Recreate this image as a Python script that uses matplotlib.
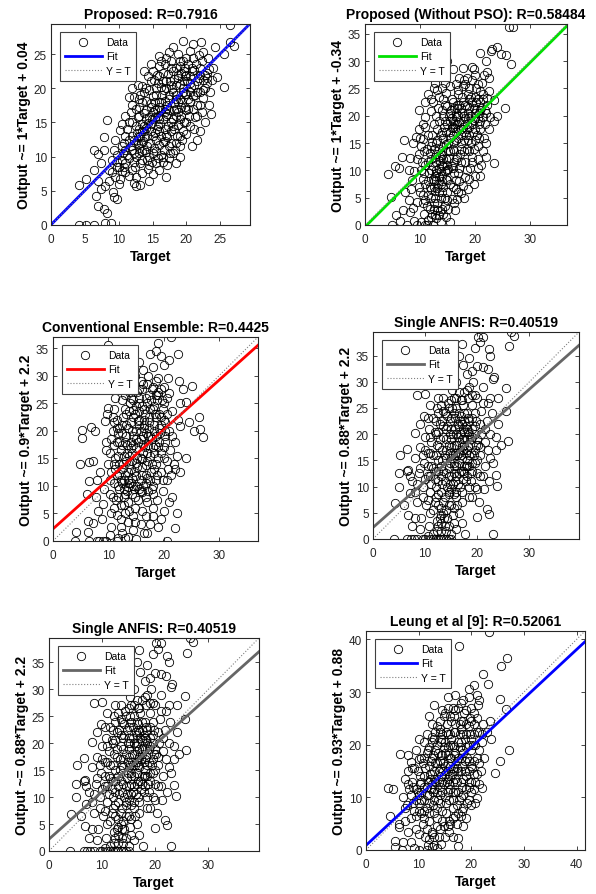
import numpy as np
import matplotlib
matplotlib.use('Agg')
import matplotlib.pyplot as plt
from matplotlib.lines import Line2D

plt.rcParams['font.family'] = ['Liberation Sans', 'DejaVu Sans']

# ---- data: (Target, Output) ----
proposed = [(4.2,0.0),(5.2,0.0),(6.3,0.0),(8.0,0.3),(8.8,0.3),(4.1,5.9),(5.2,6.7),(6.4,8.0),(6.4,10.9),(7.0,10.4),(7.8,11.0),(7.8,12.9),(8.2,15.3),(6.7,4.2),(7.0,2.8),(7.8,2.3),(8.3,1.8),(7.4,5.3),(9.1,4.8),(9.7,3.8),(9.3,4.1),(8.5,6.5),(8.0,5.7),(7.0,6.5),(7.4,9.0),(8.6,8.0),(9.0,7.7),(9.7,8.5),(9.8,10.2),(9.5,12.4),(9.3,11.0),(10.2,6.8),(10.5,7.9),(10.6,10.6),(10.2,13.9),(10.8,12.0),(11.0,16.0),(11.2,14.0),(11.8,16.5),(11.0,9.0),(11.5,7.2),(11.8,11.5),(12.0,13.0),(11.5,18.7),(12.3,18.7),(12.2,6.2),(12.6,5.7),(12.4,8.5),(12.6,10.0),(12.8,11.8),(12.5,14.5),(12.9,15.8),(13.0,17.3),(13.2,19.0),(13.5,20.4),(13.2,9.0),(13.5,7.6),(13.6,12.3),(13.8,13.7),(13.7,16.4),(14.0,18.2),(14.1,10.7),(14.3,8.2),(14.4,14.9),(14.6,12.0),(14.7,17.2),(14.5,19.8),(14.8,21.0),(14.9,9.2),(15.0,7.5),(15.2,11.2),(15.3,13.5),(15.4,15.8),(15.3,18.0),(15.5,20.0),(15.6,22.0),(15.9,23.2),(15.9,24.7),(15.8,9.8),(16.0,11.7),(16.2,13.0),(16.1,14.8),(16.3,16.8),(16.4,19.0),(16.5,21.0),(16.3,10.2),(16.8,12.3),(16.9,14.0),(17.0,15.9),(17.1,17.5),(17.0,20.0),(17.3,22.1),(17.5,25.3),(17.2,8.8),(17.6,10.5),(17.8,12.0),(17.7,13.8),(18.0,15.5),(18.1,17.8),(18.0,19.5),(18.2,21.3),(18.4,23.0),(18.3,11.0),(18.6,13.0),(18.8,14.6),(18.7,16.6),(19.0,18.5),(19.0,20.6),(19.2,22.2),(19.5,24.0),(19.5,26.9),(19.3,12.5),(19.6,15.0),(19.8,17.2),(20.0,19.2),(20.1,21.0),(20.2,23.5),(20.0,13.3),(20.4,16.0),(20.6,18.0),(20.7,20.2),(20.9,22.5),(21.0,24.5),(21.0,26.5),(21.2,14.0),(21.3,15.8),(21.5,17.6),(21.6,19.5),(21.8,21.5),(22.0,23.0),(22.2,26.7),(22.4,25.3),(22.3,16.5),(22.5,18.6),(22.7,20.0),(22.8,22.0),(23.0,22.3),(23.4,22.8),(23.2,24.5),(23.5,19.5),(23.8,21.2),(24.0,23.0),(23.3,17.6),(24.5,21.7),(25.5,20.2),(25.6,25.0),(26.5,26.8),(27.0,26.2),(26.4,29.3),(24.2,26.0),(21.5,12.5),(20.8,11.5),(19.0,10.0),(18.5,9.0),(17.0,7.0),(16.0,8.0),(14.5,6.5),(13.2,5.8),(12.0,15.0),(12.5,17.0),(13.8,11.0),(14.2,13.0),(15.5,12.5),(16.5,15.5),(17.5,16.8),(18.5,18.5),(19.5,19.5),(15.0,16.5),(14.0,15.5),(13.0,14.0),(12.8,12.8),(16.8,18.2),(17.9,19.9),(19.8,21.8),(21.2,22.7),(10.0,6.0),(9.0,9.5),(13.8,22.5),(14.3,21.8),(12.0,20.0),(22.0,13.8),(22.8,15.0),(23.6,16.2),(20.5,25.5),(18.8,25.0),(17.8,24.0),(16.8,23.5)]
proposed_core = [(10.5,9.5),(11.0,11.0),(11.5,12.5),(11.2,10.2),(12.0,11.0),(12.3,9.2),(12.7,13.5),(13.0,10.5),(13.3,12.0),(13.5,14.8),(13.0,16.0),(14.0,16.8),(13.8,19.5),(14.5,10.0),(14.8,13.8),(14.9,15.5),(15.0,18.8),(15.2,21.2),(15.5,9.0),(15.6,14.0),(15.7,17.0),(16.0,18.0),(16.2,20.2),(16.5,22.3),(16.7,11.0),(16.0,13.8),(17.2,12.8),(17.3,14.5),(17.5,19.0),(17.6,21.0),(17.8,23.0),(18.0,10.5),(18.2,14.0),(18.4,16.0),(18.5,20.5),(18.8,22.0),(19.0,13.0),(19.2,16.0),(19.4,18.0),(19.6,21.0),(19.8,23.0),(20.0,15.0),(20.3,17.0),(20.5,19.5),(20.6,21.8),(21.0,18.8),(21.2,20.5),(21.4,23.5),(22.0,17.5),(22.0,19.5),(22.5,21.2),(21.8,24.8),(23.0,20.8),(19.0,11.5),(17.5,9.8),(16.5,9.2),(15.0,10.5),(14.2,9.5),(13.5,10.8),(12.0,8.0),(11.0,7.8),(10.0,8.5),(9.5,7.0),(11.5,15.0),(10.5,14.8),(12.8,20.5),(13.5,18.0),(14.8,23.5),(15.8,20.8),(16.2,24.0),(17.0,24.5),(18.0,26.0),(19.0,24.0),(20.0,22.0),(18.5,17.0),(17.8,15.0),(16.8,16.5),(15.8,16.0),(14.0,14.2),(13.2,13.0),(12.2,12.5)]
proposed_dense = [(11.5,9.8),(12.2,10.5),(12.5,12.0),(13.0,11.2),(13.4,13.8),(13.8,12.8),(14.2,11.5),(14.5,15.8),(14.8,14.8),(15.0,13.0),(15.3,16.8),(15.5,19.0),(15.8,14.5),(16.0,15.5),(16.3,18.0),(16.5,12.2),(16.7,19.8),(17.0,13.2),(17.2,16.2),(17.4,18.5),(17.7,20.5),(18.0,14.5),(18.2,16.8),(18.4,19.0),(18.7,21.5),(19.0,15.5),(19.2,17.2),(19.5,20.0),(19.7,22.5),(20.0,16.8),(20.2,18.5),(20.5,20.8),(20.8,23.0),(21.0,17.0),(21.3,19.0),(21.5,21.0),(22.0,22.0),(22.3,24.0),(12.0,17.5),(13.0,18.5),(14.0,20.0),(15.0,22.5),(16.0,21.8),(17.0,21.0),(18.0,22.5),(19.0,23.2),(20.0,24.5),(13.5,9.5),(14.5,8.8),(15.5,10.8),(16.5,10.0),(17.5,11.5),(18.5,12.0),(19.5,13.8),(20.5,14.5),(21.5,16.0),(11.0,13.0),(10.5,11.5),(9.8,9.2),(10.8,8.5),(12.5,7.0),(16.0,17.2),(17.0,17.0),(14.8,17.8),(13.8,14.5),(18.8,18.0),(19.8,19.2),(22.5,19.8),(23.0,21.5)]

no_pso = [(4.2,9.4),(4.7,5.1),(5.0,0.0),(5.4,10.8),(6.2,10.5),(6.7,12.5),(7.1,15.6),(7.0,2.8),(7.6,0.0),(6.3,0.8),(5.6,1.8),(8.2,2.4),(8.8,3.1),(9.5,0.0),(10.9,0.0),(11.3,0.0),(12.4,0.0),(10.2,0.5),(9.4,4.2),(8.5,8.2),(8.2,12.2),(8.0,10.0),(8.8,15.0),(9.2,16.2),(9.8,17.5),(9.8,21.0),(11.4,24.0),(11.0,22.5),(12.8,26.0),(12.5,25.0),(14.5,26.0),(15.0,30.0),(16.0,28.5),(17.8,28.8),(19.5,29.0),(19.8,28.5),(21.0,31.5),(22.0,30.0),(23.0,31.9),(23.1,32.3),(24.0,32.5),(24.8,31.3),(25.6,31.2),(26.3,36.3),(27.0,36.3),(26.6,29.5),(22.2,28.0),(21.6,27.5),(22.5,27.0),(25.5,21.4),(23.5,22.8),(24.0,20.0),(23.5,19.0),(23.5,11.3),(22.0,12.5),(21.0,9.0),(20.5,12.0),(10.0,6.0),(10.5,8.5),(10.4,11.5),(10.8,13.5),(10.6,15.8),(11.0,18.0),(11.0,19.8),(11.3,3.5),(11.5,5.5),(11.8,7.0),(11.6,9.5),(12.0,12.0),(12.0,14.5),(12.2,16.5),(12.0,20.8),(12.4,22.5),(12.2,2.0),(12.6,4.0),(12.8,6.2),(12.6,8.0),(12.9,10.0),(13.0,11.5),(13.0,13.0),(13.2,15.5),(13.2,17.5),(13.4,19.0),(13.3,21.5),(13.5,23.5),(13.0,1.2),(13.6,2.5),(13.8,5.0),(13.8,7.5),(14.0,9.0),(14.0,11.0),(14.1,12.8),(14.2,14.2),(14.2,16.0),(14.4,18.0),(14.3,20.0),(14.6,22.0),(14.7,24.2),(14.5,3.5),(15.0,6.0),(15.0,8.2),(15.2,10.2),(15.3,12.2),(15.2,15.0),(15.5,17.0),(15.4,19.0),(15.6,21.0),(15.8,23.0),(15.5,25.5),(15.8,4.8),(16.0,7.0),(16.2,9.5),(16.3,11.5),(16.2,13.5),(16.5,15.5),(16.4,17.8),(16.6,19.8),(16.8,22.0),(16.9,24.0),(16.4,2.8),(17.0,6.0),(17.2,8.0),(17.1,10.5),(17.3,13.0),(17.4,15.0),(17.5,17.5),(17.6,20.5),(17.8,22.5),(17.9,25.5),(18.0,5.0),(18.2,8.8),(18.3,11.5),(18.5,14.0),(18.4,16.5),(18.6,18.5),(18.8,20.5),(18.9,23.0),(19.0,25.0),(19.2,10.5),(19.5,12.5),(19.4,15.0),(19.6,17.0),(19.8,19.2),(19.9,21.5),(20.0,23.5),(20.2,25.0),(20.5,14.5),(20.4,16.5),(20.7,18.5),(20.8,20.5),(21.0,22.5),(21.0,24.5),(21.2,11.0),(21.5,13.5),(21.6,16.0),(21.8,18.5),(22.0,20.5),(22.2,22.0),(22.5,24.5),(22.8,19.8),(22.0,15.0),(22.5,17.5),(21.3,26.0),(20.0,27.5),(18.5,27.0),(18.0,26.5),(17.2,27.0),(16.5,25.8),(14.0,25.0),(13.2,24.8),(12.0,23.0),(10.2,14.5),(9.5,12.0),(9.0,9.8),(9.8,7.0),(10.8,2.0),(11.5,1.0),(14.8,1.5),(15.5,0.5),(13.8,0.5),(12.8,1.8),(16.2,4.0),(17.5,5.8),(18.8,6.5),(19.0,8.5),(20.1,9.0),(20.5,10.5),(19.8,7.5),(8.0,4.5),(7.3,6.0),(8.3,6.5),(9.0,0.8),(10.5,4.0)]
no_pso_core = [(12.5,7.0),(12.8,9.0),(13.0,8.2),(13.2,6.8),(13.5,8.8),(13.4,10.5),(13.7,11.8),(13.6,12.5),(14.2,7.0),(14.5,9.8),(14.3,10.8),(14.8,12.0),(14.0,6.0),(13.2,4.0),(12.0,5.0),(12.3,10.8),(11.8,13.2),(12.5,14.0),(13.0,15.0),(13.8,16.5),(14.8,17.0),(15.0,18.5),(15.3,20.0),(15.8,17.8),(16.0,16.5),(16.2,18.5),(16.5,20.5),(16.8,21.5),(17.0,16.0),(17.2,18.8),(17.5,21.5),(17.7,23.5),(18.0,17.0),(18.2,19.5),(18.5,21.8),(18.7,24.0),(19.0,18.0),(19.3,20.0),(19.5,22.5),(20.0,19.5),(20.3,21.0),(20.5,23.0),(21.0,19.0),(21.2,21.5),(16.0,14.0),(16.8,12.5),(17.5,11.5),(18.0,13.5),(18.8,15.5),(19.8,14.0),(20.8,16.0),(15.5,13.5),(14.7,14.8),(14.0,13.5),(15.8,10.8),(16.5,8.2),(17.8,7.2),(16.8,4.8),(15.2,3.0),(14.2,2.0),(12.0,1.5),(11.8,3.0),(13.5,1.8),(15.0,21.8),(14.2,23.0),(14.0,21.0),(13.0,20.0),(12.6,18.5),(12.2,15.2),(11.5,16.5),(11.3,14.0),(11.0,11.0),(10.8,9.5),(11.5,8.0),(10.2,10.0),(9.8,13.0),(10.0,16.0),(10.5,18.5),(16.0,22.5),(17.0,24.8),(18.2,25.8),(19.5,26.5),(20.5,25.8),(21.5,24.0),(21.8,21.0),(22.3,23.2),(17.8,19.0),(16.2,15.2),(15.0,11.0),(19.0,13.5)]
no_pso_dense = [(12.0,6.5),(12.3,8.5),(12.8,5.0),(13.0,9.5),(13.3,7.5),(13.5,6.0),(13.8,9.8),(14.0,8.0),(14.3,12.0),(14.5,5.0),(14.8,8.5),(15.0,10.0),(15.2,13.5),(15.5,16.0),(15.8,19.5),(16.0,18.0),(16.2,21.5),(16.5,17.0),(16.8,18.5),(17.0,20.0),(17.2,22.0),(17.5,16.5),(17.8,18.0),(18.0,20.0),(18.3,22.0),(18.5,17.5),(18.8,19.5),(19.0,21.5),(19.3,23.5),(19.5,18.5),(20.0,20.5),(20.3,22.5),(20.5,19.5),(21.0,21.0),(21.5,23.0),(15.5,20.5),(16.0,19.0),(17.0,17.5),(14.5,19.0),(14.0,17.0),(13.5,14.0),(12.8,12.5),(12.0,10.0),(11.5,11.5),(11.0,7.5),(10.5,5.5),(15.5,7.5),(16.0,10.5),(16.5,12.0),(17.5,14.0),(18.0,15.5),(19.0,16.5),(20.0,17.5),(21.0,17.5),(19.5,11.5),(18.5,10.0),(17.0,9.5),(16.5,6.5),(15.0,4.5),(14.0,3.0),(13.2,2.8),(12.5,3.0),(11.0,4.5),(20.0,15.5),(21.5,19.8)]

conv_ens = [(4.0,0.0),(4.2,1.7),(5.2,20.2),(5.3,18.7),(4.8,14.0),(6.8,20.7),(6.5,14.3),(7.3,14.6),(7.6,20.0),(6.5,10.8),(6.2,8.5),(6.3,3.7),(6.5,0.0),(6.4,1.7),(7.2,3.3),(8.0,0.0),(8.3,0.0),(9.0,0.0),(9.6,0.0),(10.0,35.6),(10.0,24.2),(11.0,24.0),(19.0,36.0),(21.3,37.0),(21.0,32.8),(22.5,34.0),(18.6,34.5),(20.0,32.0),(23.5,27.5),(25.0,28.2),(23.0,25.0),(24.0,25.2),(26.3,22.5),(26.5,20.3),(25.5,20.0),(27.0,18.8),(23.0,20.8),(24.0,15.0),(22.0,13.0),(21.5,8.0),(22.0,2.3),(20.5,0.0),(18.0,4.5),(19.0,2.5),(17.0,1.5),(15.0,0.3),(13.5,0.8),(11.5,0.0),(11.8,0.5),(7.8,8.0),(8.0,11.0),(8.5,12.5),(8.2,5.5),(8.8,4.0),(9.0,6.8),(9.2,9.5),(9.5,16.5),(9.6,18.0),(9.4,21.8),(10.0,14.0),(10.2,11.0),(10.3,8.5),(10.5,5.0),(10.5,2.5),(10.8,20.0),(10.8,22.5),(11.0,17.5),(11.2,13.0),(11.0,10.5),(11.3,7.5),(11.5,4.8),(11.6,22.0),(11.8,19.5),(11.8,15.5),(12.0,12.2),(12.0,9.5),(12.2,6.5),(12.2,2.5),(12.5,25.5),(12.5,21.0),(12.5,17.5),(12.7,14.0),(12.8,11.0),(12.9,8.0),(13.0,5.0),(13.2,23.0),(13.2,19.0),(13.3,16.0),(13.5,12.5),(13.5,9.8),(13.6,7.0),(13.8,27.0),(13.9,25.0),(14.0,21.5),(14.0,18.0),(14.2,14.5),(14.3,11.5),(14.3,8.5),(14.5,4.5),(14.5,2.0),(14.8,30.0),(14.8,23.0),(15.0,20.0),(15.0,16.8),(15.1,13.5),(15.2,10.0),(15.4,7.5),(15.5,27.5),(15.5,25.0),(15.6,22.0),(15.8,18.5),(15.8,15.0),(16.0,12.0),(16.0,8.8),(16.0,5.5),(16.3,31.0),(16.3,28.5),(16.5,24.0),(16.5,20.5),(16.6,17.0),(16.8,13.8),(16.8,10.5),(17.0,7.0),(17.2,30.0),(17.3,26.5),(17.4,22.5),(17.5,19.0),(17.5,15.5),(17.6,12.5),(17.8,9.5),(18.0,31.5),(18.0,28.0),(18.2,24.5),(18.2,21.0),(18.4,17.5),(18.5,14.0),(18.6,11.0),(18.8,7.5),(19.0,29.5),(19.0,26.5),(19.2,23.0),(19.3,19.5),(19.5,16.0),(19.5,12.5),(19.8,9.0),(20.0,28.0),(20.0,25.0),(20.2,21.5),(20.3,18.0),(20.5,14.5),(20.5,11.0),(20.8,29.5),(21.0,26.8),(21.0,20.0),(21.2,16.5),(21.3,12.0),(21.5,23.5),(22.0,18.0),(22.3,15.5),(22.5,22.0),(23.0,12.5),(20.0,5.5),(21.0,7.0),(22.3,5.0),(19.5,4.0),(17.5,3.0),(16.5,1.5),(12.5,1.5),(13.0,0.5),(10.2,1.0),(24.5,21.5),(22.8,29.0),(12.2,28.0),(11.2,26.0),(10.5,28.5),(13.5,33.0),(15.5,32.5),(17.5,34.0),(19.5,33.5),(9.8,23.0),(12.8,30.5)]
conv_ens_core = [(12.0,14.0),(12.3,16.5),(12.5,19.5),(12.7,22.5),(12.8,9.5),(13.0,12.0),(13.2,14.5),(13.4,17.5),(13.5,20.5),(13.7,23.5),(13.0,8.5),(13.8,10.5),(14.0,13.0),(14.2,16.0),(14.4,19.0),(14.5,22.5),(14.5,25.5),(14.7,9.5),(15.0,11.8),(15.2,15.0),(15.3,18.0),(15.5,21.0),(15.6,23.5),(15.8,9.0),(16.0,13.5),(16.2,16.0),(16.3,19.0),(16.5,22.0),(16.7,26.0),(16.8,8.0),(17.0,11.5),(17.0,14.5),(17.2,17.5),(17.3,20.5),(17.5,24.0),(17.8,27.5),(18.0,10.0),(18.2,13.0),(18.3,16.0),(18.5,19.0),(18.6,22.5),(18.8,25.5),(19.0,15.0),(19.2,18.0),(19.5,21.0),(19.8,24.0),(20.0,17.0),(20.3,20.0),(12.0,18.0),(11.5,20.5),(11.0,21.5),(10.5,18.5),(10.2,16.0),(11.2,15.0),(11.5,12.0),(10.8,8.0),(11.8,10.0),(12.2,4.0),(13.5,3.5),(14.8,6.0),(15.8,3.0),(13.0,26.5),(14.2,28.0),(15.8,29.0),(17.0,28.5),(18.5,29.0),(19.5,27.5),(20.5,26.0),(21.5,19.0),(21.8,14.0),(20.8,13.0),(19.8,11.0),(18.0,6.0),(16.8,4.5),(17.5,11.0),(14.5,10.0),(13.8,15.5),(15.0,24.5),(16.0,27.5)]
conv_ens_dense = [(12.2,11.0),(12.5,13.0),(12.8,15.5),(13.0,18.0),(13.2,21.0),(13.5,11.0),(13.7,14.0),(14.0,16.8),(14.2,20.0),(14.5,23.8),(14.7,12.5),(15.0,14.2),(15.0,18.5),(15.3,21.8),(15.5,26.0),(15.8,11.0),(16.0,14.8),(16.2,17.5),(16.4,21.0),(16.6,23.0),(16.8,12.0),(17.0,16.0),(17.2,19.0),(17.4,21.5),(17.6,25.5),(17.8,14.0),(18.0,17.0),(18.2,20.0),(18.4,23.0),(18.6,26.5),(18.8,12.0),(19.0,17.0),(19.2,20.5),(19.5,22.5),(19.7,25.5),(20.0,15.0),(20.2,19.0),(20.5,23.0),(12.0,20.5),(11.5,18.0),(11.0,14.0),(11.8,8.0),(12.5,10.5),(13.3,9.0),(14.0,10.5),(14.8,8.0),(15.5,9.5),(16.2,10.0),(17.2,9.0),(18.0,8.5),(13.0,24.0),(14.0,26.0),(15.2,27.0),(16.0,24.5),(17.0,25.0),(18.0,24.0),(19.0,27.0),(20.0,22.0),(13.8,5.5),(12.8,6.5),(14.8,3.5),(11.0,6.0),(10.5,12.5),(15.8,20.0),(16.8,19.5),(17.8,18.5),(14.5,17.5)]

single_anfis = [(4.0,0.0),(4.2,6.8),(5.2,16.0),(5.0,12.5),(5.0,10.0),(6.5,13.0),(6.8,13.2),(6.5,17.2),(7.0,8.8),(6.8,4.6),(7.5,2.5),(6.5,0.0),(7.2,0.0),(7.8,0.0),(8.5,0.0),(9.5,0.0),(10.0,0.0),(11.0,0.0),(12.0,0.0),(12.5,0.0),(13.0,0.0),(13.5,0.0),(14.5,0.0),(15.0,0.0),(8.5,27.5),(10.0,27.6),(10.5,23.0),(9.0,22.0),(8.0,20.2),(17.0,37.2),(17.2,33.2),(19.5,36.5),(20.5,37.5),(21.0,38.5),(20.2,38.6),(26.5,39.5),(27.0,38.8),(26.0,36.8),(22.2,36.2),(22.0,32.5),(21.0,32.8),(20.0,33.0),(23.0,30.5),(23.2,31.0),(25.5,28.8),(24.0,27.0),(22.5,27.0),(25.5,24.5),(24.5,18.0),(25.8,18.7),(23.5,17.0),(23.5,12.2),(23.8,10.2),(23.0,1.0),(22.2,4.8),(21.8,5.8),(20.0,4.2),(7.5,11.0),(8.0,15.5),(8.5,7.0),(8.8,12.5),(9.0,17.5),(9.2,4.0),(9.5,10.0),(9.8,14.5),(10.0,19.5),(10.2,6.5),(10.5,12.0),(10.5,16.5),(10.8,21.0),(10.8,2.5),(11.0,9.0),(11.2,14.0),(11.2,18.5),(11.5,23.0),(11.5,5.5),(11.8,11.5),(12.0,16.0),(12.0,20.0),(12.2,25.0),(12.3,3.5),(12.5,8.5),(12.5,13.0),(12.7,17.5),(12.8,22.0),(13.0,1.5),(13.0,6.0),(13.2,10.5),(13.3,15.0),(13.5,19.5),(13.5,24.5),(13.7,4.0),(13.8,8.0),(14.0,12.5),(14.0,17.0),(14.2,21.5),(14.3,26.0),(14.5,2.5),(14.5,6.5),(14.7,10.5),(14.8,14.5),(15.0,19.0),(15.0,23.0),(15.2,28.5),(15.3,4.5),(15.5,8.5),(15.5,12.5),(15.7,16.5),(15.8,21.0),(16.0,25.0),(16.0,30.0),(16.2,6.5),(16.3,10.5),(16.5,14.5),(16.5,18.5),(16.7,22.5),(16.8,26.5),(17.0,3.0),(17.0,9.0),(17.2,13.0),(17.3,17.0),(17.5,20.5),(17.5,24.0),(17.7,1.0),(17.8,11.0),(18.0,15.0),(18.0,19.0),(18.2,23.0),(18.3,27.0),(18.5,8.0),(18.7,12.5),(18.8,16.5),(19.0,21.0),(19.0,25.5),(19.2,30.0),(19.5,10.0),(19.5,14.5),(19.7,18.0),(19.8,22.5),(20.0,27.0),(20.3,7.0),(20.5,12.0),(20.5,16.0),(20.7,20.0),(20.8,24.5),(21.0,29.0),(21.3,9.5),(21.5,14.0),(21.5,18.5),(21.8,22.5),(22.0,26.0),(22.2,11.0),(22.5,15.5),(22.5,20.0),(22.8,24.0),(23.0,14.5),(23.5,19.5),(24.0,22.0),(12.0,10.0),(13.0,12.0),(14.0,15.5),(15.0,17.5),(16.0,20.0),(17.0,22.0),(18.0,24.0),(16.5,16.5),(15.5,14.0),(14.5,12.0),(17.5,18.0),(18.5,20.0),(19.5,24.0),(13.5,27.0),(12.5,24.0),(11.0,25.5),(9.8,23.5),(15.0,33.0),(14.0,30.5),(16.5,35.0),(18.5,34.5),(19.0,32.0),(22.5,35.0),(9.0,2.0),(10.5,0.5),(11.5,1.0),(16.0,2.0),(8.0,4.0),(6.0,6.5),(7.0,12.0)]
single_anfis_core = [(13.0,14.0),(13.3,17.0),(13.5,21.5),(13.8,11.0),(14.0,19.0),(14.2,23.5),(14.5,8.5),(14.6,13.5),(14.8,16.5),(15.0,21.0),(15.2,25.0),(15.4,10.5),(15.5,14.5),(15.6,18.0),(15.8,23.0),(16.0,8.0),(16.0,12.0),(16.2,16.0),(16.3,19.5),(16.5,21.5),(16.5,24.0),(16.7,10.0),(16.8,13.0),(17.0,15.5),(17.0,19.0),(17.2,25.5),(17.3,11.5),(17.5,14.0),(17.5,22.5),(17.8,16.5),(18.0,12.0),(18.0,21.0),(18.2,17.5),(18.5,10.0),(18.5,14.0),(18.8,19.0),(19.0,23.0),(19.0,13.0),(19.3,16.0),(19.5,20.0),(20.0,15.0),(20.2,18.0),(20.5,22.0),(12.0,13.0),(12.2,18.0),(11.5,16.0),(11.8,20.5),(11.0,12.0),(11.0,16.5),(10.5,14.0),(10.0,11.5),(10.0,17.0),(12.5,6.5),(12.8,4.0),(13.5,5.0),(13.8,2.5),(12.2,1.5),(14.2,4.0),(15.0,6.5),(15.5,3.0),(16.5,5.0),(14.0,0.0),(12.8,0.0),(11.5,0.0),(10.5,7.5),(11.0,5.0),(9.5,8.0),(9.0,13.5),(9.5,16.0),(8.5,10.5),(8.0,9.0),(17.5,28.0),(18.5,29.0),(16.5,28.0),(15.5,27.0),(14.5,25.0),(13.0,25.5),(12.5,27.0),(18.0,31.5),(19.5,27.5),(21.0,26.0),(21.5,21.0),(22.0,17.0),(21.0,12.0),(20.0,9.5),(19.0,8.0)]
single_anfis_dense = [(12.5,15.0),(12.8,19.0),(13.0,9.0),(13.2,22.5),(13.5,13.0),(13.8,16.0),(14.0,21.0),(14.2,10.0),(14.5,18.0),(14.7,22.5),(15.0,12.0),(15.0,15.5),(15.3,20.0),(15.5,24.0),(15.8,11.0),(16.0,14.0),(16.0,18.0),(16.3,22.0),(16.5,12.5),(16.6,20.0),(16.8,23.5),(17.0,17.5),(17.2,21.0),(17.5,12.5),(17.5,19.0),(17.8,21.5),(18.0,14.0),(18.0,17.0),(18.3,20.5),(18.5,22.5),(18.5,16.0),(19.0,19.5),(19.0,14.5),(19.5,17.0),(19.5,21.5),(20.0,19.0),(20.0,12.5),(20.5,17.5),(12.0,8.0),(12.5,11.0),(13.0,4.5),(13.5,7.0),(14.0,5.5),(14.5,9.0),(15.0,9.5),(15.5,6.0),(16.0,9.0),(17.0,7.0),(13.0,3.0),(12.5,2.5),(14.0,1.5),(15.0,1.0),(11.8,7.0),(11.2,10.5),(11.5,13.5),(11.0,19.5),(12.0,22.5),(12.5,20.5),(13.8,24.0),(15.0,26.5),(16.0,27.0),(17.0,26.5),(18.0,28.5),(19.0,27.5),(14.8,20.0),(15.8,16.0),(16.8,16.0),(17.8,14.0),(18.8,11.0)]

leung = [(23.3,41.5),(17.7,38.8),(26.8,36.4),(25.7,35.0),(22.3,33.5),(23.2,31.5),(25.5,28.7),(26.5,26.8),(27.2,19.0),(25.5,17.0),(24.5,14.6),(22.0,11.8),(21.0,9.8),(4.2,11.7),(5.2,11.5),(4.5,6.5),(6.3,5.0),(6.3,4.3),(5.5,1.8),(5.5,0.6),(6.8,0.0),(8.5,1.5),(9.2,0.3),(10.0,0.0),(11.5,0.0),(12.5,0.5),(13.5,0.3),(14.3,1.2),(17.5,0.8),(17.5,2.2),(16.5,2.5),(6.5,18.2),(8.0,18.0),(8.5,16.8),(8.0,15.0),(10.0,17.2),(11.0,20.5),(12.0,25.5),(13.0,27.5),(14.0,22.5),(15.5,27.0),(17.0,29.5),(18.0,28.0),(19.5,30.5),(20.5,31.3),(21.0,29.5),(21.5,28.5),(7.0,10.0),(7.5,13.5),(7.8,8.5),(8.2,11.5),(8.5,6.0),(8.8,13.0),(9.0,9.0),(9.2,15.5),(9.5,4.0),(9.8,11.0),(10.0,7.5),(10.2,14.0),(10.5,9.5),(10.5,17.5),(10.8,5.0),(11.0,12.0),(11.2,2.5),(11.3,15.5),(11.5,8.0),(11.7,19.0),(12.0,10.5),(12.0,5.5),(12.2,13.5),(12.3,17.0),(12.5,21.5),(12.6,3.0),(12.8,8.5),(13.0,11.5),(13.0,15.0),(13.2,19.0),(13.5,23.5),(13.5,6.0),(13.7,9.5),(13.8,13.0),(14.0,17.0),(14.0,4.0),(14.3,20.5),(14.5,7.5),(14.5,11.0),(14.7,15.0),(14.8,25.5),(15.0,18.5),(15.0,2.5),(15.2,9.0),(15.3,13.0),(15.5,22.0),(15.6,16.5),(15.8,5.5),(16.0,11.5),(16.0,20.0),(16.2,24.5),(16.3,14.5),(16.5,8.0),(16.7,18.0),(16.8,22.5),(17.0,11.0),(17.0,26.5),(17.2,5.0),(17.3,15.5),(17.5,20.5),(17.6,9.5),(17.8,24.0),(18.0,13.0),(18.0,17.5),(18.2,7.5),(18.4,22.0),(18.5,10.5),(18.6,26.0),(18.8,15.0),(19.0,19.5),(19.0,24.0),(19.2,9.0),(19.5,13.0),(19.5,17.0),(19.7,22.0),(20.0,27.0),(20.0,11.0),(20.2,15.5),(20.3,20.0),(20.5,24.0),(20.8,13.0),(21.0,17.5),(21.0,22.5),(21.3,27.5),(21.5,12.5),(21.8,15.0),(22.0,20.5),(22.2,24.0),(22.5,17.5),(23.0,22.5),(23.5,24.5),(23.8,21.0),(12.0,7.0),(13.0,9.5),(14.0,12.0),(15.0,14.5),(16.0,16.0),(17.0,18.5),(18.0,20.5),(11.0,9.5),(12.5,12.5),(13.5,16.5),(14.5,18.0),(15.5,11.0),(16.5,13.0),(9.5,6.5),(10.5,11.0),(10.0,3.0),(11.8,1.0),(13.0,1.0),(15.8,3.5),(18.5,4.5),(17.0,6.5),(19.0,6.0),(8.0,3.5),(7.0,1.5),(20.0,8.5),(15.5,29.0),(14.5,26.5),(12.5,24.0),(11.5,22.0),(10.0,21.0),(9.5,19.0),(16.5,27.0),(18.5,28.5),(20.5,26.0),(19.5,29.0),(8.8,15.5),(7.5,5.5)]
leung_core = [(11.0,14.0),(11.5,10.5),(11.8,13.0),(12.0,16.0),(12.3,11.5),(12.5,14.5),(12.8,18.0),(13.0,7.0),(13.2,13.0),(13.5,11.0),(13.5,20.0),(13.8,15.0),(14.0,9.0),(14.2,14.0),(14.3,18.0),(14.5,22.0),(14.8,12.5),(15.0,16.0),(15.0,20.5),(15.2,7.0),(15.3,24.0),(15.5,13.5),(15.5,18.0),(15.8,9.5),(16.0,14.0),(16.0,22.0),(16.2,17.5),(16.5,11.0),(16.5,20.0),(16.8,15.0),(17.0,24.0),(17.2,8.5),(17.3,13.0),(17.5,17.5),(17.8,22.0),(18.0,10.0),(18.0,15.0),(18.2,19.0),(18.5,13.5),(18.8,17.0),(19.0,11.5),(19.0,22.0),(19.5,15.0),(19.5,20.0),(20.0,13.0),(20.0,24.5),(20.5,17.0),(20.5,11.5),(21.0,14.5),(21.5,19.0),(10.0,10.5),(10.2,12.5),(9.5,9.5),(9.0,12.0),(9.2,7.5),(10.5,7.0),(11.0,6.0),(11.5,4.0),(12.5,3.5),(13.8,2.5),(14.8,4.5),(16.0,5.0),(18.0,6.5),(9.8,15.0),(10.8,16.5),(11.5,18.5),(12.5,20.5),(13.2,22.5),(14.0,24.5),(15.0,26.0),(16.0,25.5),(17.5,27.0),(18.0,24.5),(19.0,26.5),(20.0,21.0),(21.0,25.0),(22.0,22.0),(21.5,16.5),(20.8,9.0),(19.5,9.5),(8.5,10.5),(8.0,12.5),(7.5,8.0)]
leung_dense = [(11.5,12.0),(12.0,9.0),(12.2,14.5),(12.5,17.5),(12.8,11.0),(13.0,13.5),(13.2,16.5),(13.5,8.0),(13.7,18.5),(14.0,10.5),(14.0,15.5),(14.2,21.0),(14.5,13.0),(14.7,16.5),(14.8,19.5),(15.0,10.0),(15.2,22.5),(15.5,15.0),(15.5,19.5),(15.8,12.5),(16.0,17.5),(16.2,21.0),(16.5,9.5),(16.5,15.5),(16.8,19.5),(17.0,13.5),(17.0,22.5),(17.2,17.0),(17.5,11.0),(17.5,15.0),(17.8,19.5),(18.0,23.0),(18.2,12.0),(18.2,16.0),(18.5,18.5),(18.8,21.0),(19.0,14.0),(19.2,17.5),(19.5,23.5),(20.0,16.0),(20.0,19.0),(20.5,22.0),(11.0,7.5),(10.5,13.0),(10.0,9.0),(9.5,11.5),(13.5,4.5),(14.5,5.5),(15.5,4.5),(16.5,6.0),(12.0,2.0),(13.0,2.5),(11.0,17.5),(12.0,19.5),(13.0,21.0),(14.0,23.0),(16.8,25.5),(18.5,24.5),(19.8,25.0),(20.8,20.0),(21.5,22.5),(20.5,14.5),(19.5,12.0),(18.5,8.0),(17.5,7.0)]

titles = ['Proposed: R=0.7916', 'Proposed (Without PSO): R=0.58484',
          'Conventional Ensemble: R=0.4425', 'Single ANFIS: R=0.40519',
          'Single ANFIS: R=0.40519', 'Leung et al [9]: R=0.52061']
ylabels = ['Output ~= 1*Target + 0.04', 'Output ~= 1*Target + -0.34',
           'Output ~= 0.9*Target + 2.2', 'Output ~= 0.88*Target + 2.2',
           'Output ~= 0.88*Target + 2.2', 'Output ~= 0.93*Target + 0.88']
slopes = [1.0, 1.0, 0.9, 0.88, 0.88, 0.93]
intercepts = [0.04, -0.34, 2.2, 2.2, 2.2, 0.88]
limits = [29.4, 36.8, 37.0, 39.5, 39.5, 41.6]
fit_colors = ['#0000ff', '#00e000', '#ff0000', '#666666', '#666666', '#0000ff']
anfis_all = single_anfis + single_anfis_core + single_anfis_dense
datasets = [proposed + proposed_core + proposed_dense,
            no_pso + no_pso_core + no_pso_dense,
            conv_ens + conv_ens_core + conv_ens_dense,
            anfis_all, anfis_all,
            leung + leung_core + leung_dense]
xtick_steps = [5, 10, 10, 10, 10, 10]
ytick_steps = [5, 5, 5, 5, 5, 10]

# axes boxes in pixels: left, right, top, bottom
boxes = [(51, 250, 25, 226), (365, 567, 25, 226),
         (53, 258, 338, 542), (373, 579, 333, 540),
         (49, 259, 639, 852), (366, 585, 632, 851)]

W, H = 596, 895
fig = plt.figure(figsize=(W/100, H/100), dpi=100)

for i in range(6):
    l, r, t, b = boxes[i]
    ax = fig.add_axes([l/W, 1-b/H, (r-l)/W, (b-t)/H])
    pts = np.array(datasets[i])
    lim = limits[i]
    xx = np.array([0, lim])
    ax.plot(pts[:, 0], pts[:, 1], 'o', mfc='none', mec='k', mew=0.6, ms=6, ls='none')
    ax.plot(xx, slopes[i]*xx + intercepts[i], color=fit_colors[i], lw=2)
    ax.plot(xx, xx, ':', color='#808080', lw=0.8)
    ax.set_xlim(0, lim)
    ax.set_ylim(0, lim)
    ax.set_xticks(np.arange(0, lim, xtick_steps[i]))
    ax.set_yticks(np.arange(0, lim, ytick_steps[i]))
    ax.tick_params(direction='in', top=True, right=True, length=3, width=0.6,
                   labelsize=8.5, colors='#262626')
    ax.tick_params(axis='x', pad=6)
    ax.tick_params(axis='y', pad=3)
    for s in ax.spines.values():
        s.set_linewidth(0.8)
        s.set_color('#262626')
    ax.set_title(titles[i], fontsize=10, fontweight='bold', pad=4)
    ax.set_xlabel('Target', fontsize=10, fontweight='bold', labelpad=3)
    ax.set_ylabel(ylabels[i], fontsize=10, fontweight='bold', labelpad=2)

    handles = [Line2D([], [], marker='o', mfc='none', mec='k', mew=0.6, ms=6, ls='none'),
               Line2D([], [], color=fit_colors[i], lw=2),
               Line2D([], [], ls=':', color='#808080', lw=0.8)]
    leg = ax.legend(handles, ['Data', 'Fit', 'Y = T'], loc='upper left',
                    bbox_to_anchor=(9/(r-l), 1-8/(b-t)), borderaxespad=0,
                    fontsize=7.5, fancybox=False, framealpha=1, edgecolor='#404040',
                    handlelength=3.5, handletextpad=0.4, borderpad=0.5, labelspacing=0.4)
    leg.get_frame().set_linewidth(0.8)

fig.savefig('out.png', dpi=100)
